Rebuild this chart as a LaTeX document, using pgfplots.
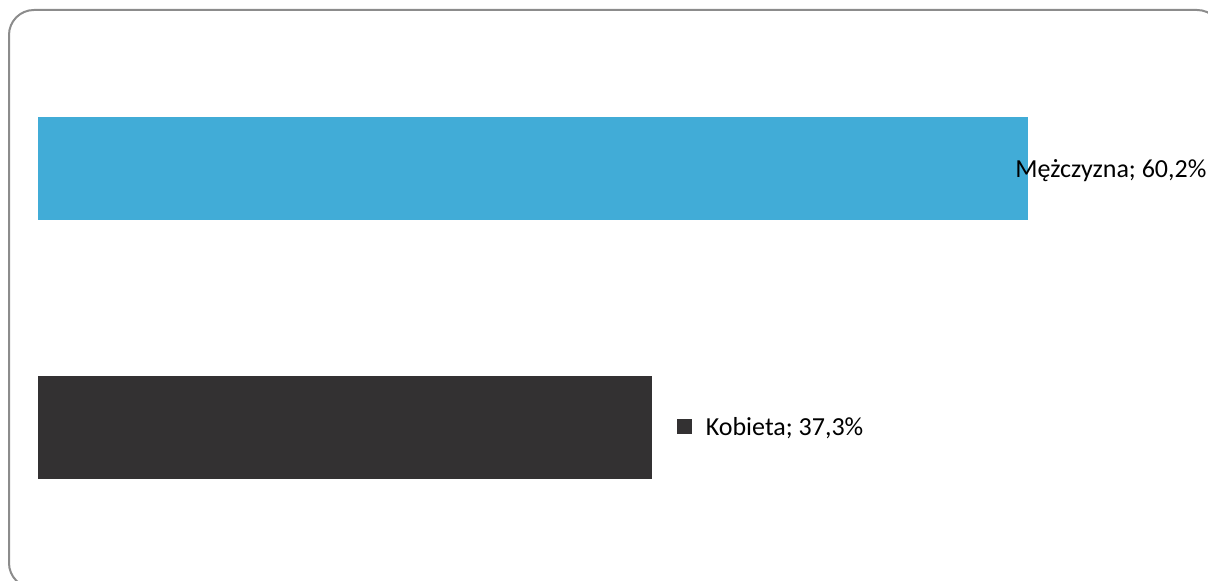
\documentclass[border=0pt]{standalone}
\usepackage{pgfplots}
\pgfplotsset{compat=1.18}
\usepackage{fontspec}
\setmainfont{Carlito}
\definecolor{barBlue}{HTML}{41ACD7}
\definecolor{barDark}{HTML}{333132}
\definecolor{frameGray}{HTML}{8C8C8C}
\begin{document}
\begin{tikzpicture}
\draw[frameGray, line width=1pt, rounded corners=12.5pt] (4.5pt,285.5pt) rectangle (611pt,-3.5pt);
\begin{axis}[
  at={(19pt,0pt)}, anchor=south west,
  scale only axis,
  width=585pt, height=290.5pt,
  xmin=0, xmax=71.125,
  ymin=-0.5927, ymax=1.6506,
  axis line style={draw=none},
  xtick=\empty, ytick=\empty,
  clip=false,
]
\addplot[xbar, bar shift=0pt, bar width=51.5pt, fill=barBlue, draw=none] coordinates {(60.2,1)};
\addplot[xbar, bar shift=0pt, bar width=51.5pt, fill=barDark, draw=none] coordinates {(37.3,0)};
\node[anchor=base west, inner sep=0pt, yshift=-4.75pt, font=\fontsize{13pt}{15pt}\selectfont] at (axis cs:59.39,1) {Mężczyzna; 60,2\%};
\node[anchor=base west, inner sep=0pt, yshift=-4.25pt, font=\fontsize{13pt}{15pt}\selectfont] at (axis cs:38.84,0) {\textcolor{barDark}{\rule[1pt]{7.25pt}{7.25pt}}\hspace{7pt}Kobieta; 37,3\%};
\end{axis}
\pgfresetboundingbox
\path[use as bounding box] (0,0) rectangle (604pt,290.5pt);
\end{tikzpicture}
\end{document}
